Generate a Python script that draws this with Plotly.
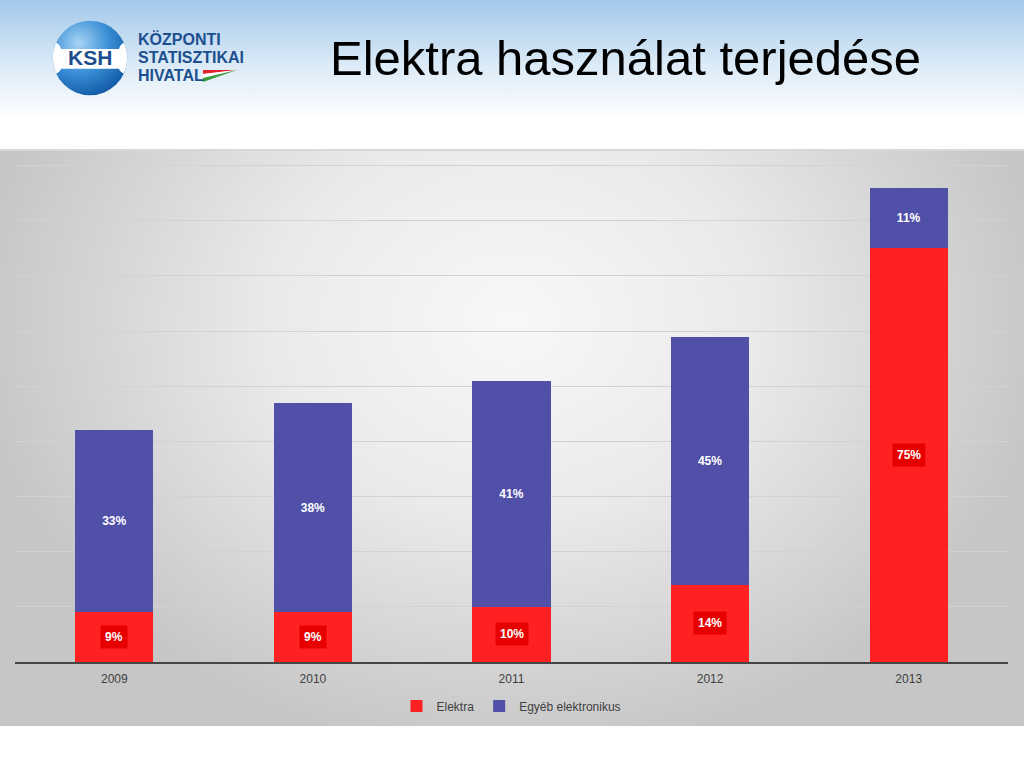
import base64
import plotly.graph_objects as go

years = ["2009", "2010", "2011", "2012", "2013"]
elektra = [9, 9, 10, 14, 75]
egyeb = [33, 38, 41, 45, 11]
series_names = ["Elektra", "Egyéb elektronikus"]
title_text = "Elektra használat terjedése"
logo_lines = ["KÖZPONTI", "STATISZTIKAI", "HIVATAL"]

RED = "#ff2121"
RED_BOX = "#e60000"
BLUE = "#5050a8"

W, H = 1024, 768
L, R, T, B = 15, 16, 160, 106
PW = W - L - R
PH = H - T - B


def px(x):
    return (x - L) / PW


def py(y):
    return (H - B - y) / PH


def svg_uri(svg):
    return "data:image/svg+xml;base64," + base64.b64encode(svg.encode()).decode()


panel_svg = """<svg xmlns='http://www.w3.org/2000/svg' width='1024' height='577' viewBox='0 0 1024 577' preserveAspectRatio='none'>
<defs><radialGradient id='g' cx='0.5' cy='0.3' r='0.75' gradientTransform='translate(0.5 0.3) scale(0.7 1) translate(-0.5 -0.3)'>
<stop offset='0' stop-color='#f8f8f8'/><stop offset='0.45' stop-color='#eaeaea'/><stop offset='1' stop-color='#c6c6c6'/></radialGradient></defs>
<rect width='1024' height='577' fill='url(#g)'/><rect width='1024' height='2' fill='#d8d8d8'/></svg>"""

header_svg = """<svg xmlns='http://www.w3.org/2000/svg' width='1024' height='120' viewBox='0 0 1024 120' preserveAspectRatio='none'>
<defs><linearGradient id='h' x1='0' y1='0' x2='0' y2='1'>
<stop offset='0' stop-color='#a3c8ea'/><stop offset='0.55' stop-color='#dcebf7'/><stop offset='1' stop-color='#ffffff'/></linearGradient></defs>
<rect width='1024' height='120' fill='url(#h)'/></svg>"""

circle_svg = """<svg xmlns='http://www.w3.org/2000/svg' width='100' height='100' viewBox='0 0 100 100'>
<defs><radialGradient id='c' cx='0.35' cy='0.3' r='0.8'>
<stop offset='0' stop-color='#a6d4f4'/><stop offset='0.5' stop-color='#3a8fd6'/><stop offset='1' stop-color='#0c529e'/></radialGradient>
<clipPath id='k'><circle cx='50' cy='50' r='49'/></clipPath></defs>
<circle cx='50' cy='50' r='49' fill='url(#c)'/>
<path clip-path='url(#k)' d='M0 28 Q10 30 12 38 L88 38 Q90 30 100 28 L100 72 Q90 70 88 64 L12 64 Q10 70 0 72 Z' fill='#ffffff'/>
</svg>"""

flag_svg = """<svg xmlns='http://www.w3.org/2000/svg' width='36' height='12' viewBox='0 0 36 12' preserveAspectRatio='none'>
<polygon points='0,0 36,0 0,4' fill='#e2232a'/><polygon points='0,4 36,0 0,8' fill='#ffffff'/>
<polygon points='0,8 36,0 0,12' fill='#3a9b3a'/></svg>"""

fig = go.Figure()
fig.add_trace(go.Bar(
    x=years, y=elektra, name=series_names[0], marker=dict(color=RED, line=dict(width=0)),
    hoverinfo="skip",
))
fig.add_trace(go.Bar(
    x=years, y=egyeb, name=series_names[1], marker=dict(color=BLUE, line=dict(width=0)),
    text=[f"<b>{v}%</b>" for v in egyeb], textposition="inside", insidetextanchor="middle",
    textangle=0, textfont=dict(color="white", size=12, family="Liberation Sans"),
    hoverinfo="skip",
))

annotations = []
for i, v in enumerate(elektra):
    annotations.append(dict(
        x=i, y=v / 2, xref="x", yref="y", text=f"<b>{v}%</b>", showarrow=False,
        font=dict(color="white", size=12, family="Liberation Sans"),
        bgcolor=RED_BOX, borderpad=4,
    ))

annotations.append(dict(
    x=px(625), y=py(58), xref="paper", yref="paper", text=title_text, showarrow=False,
    font=dict(size=49, color="black", family="Liberation Sans"), xanchor="center", yanchor="middle",
))
for i, line in enumerate(logo_lines):
    annotations.append(dict(
        x=px(136), y=py(39 + i * 18.5), xref="paper", yref="paper", text=f"<b>{line}</b>",
        showarrow=False, xanchor="left", yanchor="middle",
        font=dict(size=16, color="#1d4f8f", family="Liberation Sans Narrow, Liberation Sans"),
    ))
annotations.append(dict(
    x=px(90), y=py(58), xref="paper", yref="paper", text="<b>KSH</b>", showarrow=False,
    font=dict(size=21, color="#1d4f8f", family="Liberation Sans"), xanchor="center", yanchor="middle",
))

images = [
    dict(source=svg_uri(panel_svg), xref="paper", yref="paper", x=px(0), y=py(149),
         sizex=W / PW, sizey=577 / PH, sizing="stretch", layer="below", xanchor="left", yanchor="top"),
    dict(source=svg_uri(header_svg), xref="paper", yref="paper", x=px(0), y=py(0),
         sizex=W / PW, sizey=120 / PH, sizing="stretch", layer="below", xanchor="left", yanchor="top"),
    dict(source=svg_uri(circle_svg), xref="paper", yref="paper", x=px(52), y=py(20),
         sizex=76 / PW, sizey=76 / PH, sizing="stretch", layer="above", xanchor="left", yanchor="top"),
    dict(source=svg_uri(flag_svg), xref="paper", yref="paper", x=px(203), y=py(70),
         sizex=34 / PW, sizey=12 / PH, sizing="stretch", layer="above", xanchor="left", yanchor="top"),
]

fig.update_layout(
    width=W, height=H, barmode="stack", bargap=0.607,
    margin=dict(l=L, r=R, t=T, b=B, pad=0),
    paper_bgcolor="white", plot_bgcolor="rgba(0,0,0,0)",
    font=dict(family="Liberation Sans", size=12, color="#404040"),
    xaxis=dict(type="category", range=[-0.5, len(years) - 0.5], showline=True,
               linecolor="#454545", linewidth=2, ticks="", automargin=False, ticklabelstandoff=5,
               showgrid=False, tickfont=dict(size=12, color="#404040"), fixedrange=True),
    yaxis=dict(range=[0, 91], tick0=0, dtick=10, showticklabels=False, showgrid=True,
               automargin=False, gridcolor="#d2d2d2", gridwidth=1, zeroline=False, fixedrange=True),
    legend=dict(orientation="h", x=0.5, xanchor="center", y=py(706), yanchor="middle",
                font=dict(size=12, color="#404040"), bgcolor="rgba(0,0,0,0)", itemwidth=30,
                traceorder="normal"),
    annotations=annotations,
    images=images,
    showlegend=True,
)

fig.write_html("out.html", config={"displayModeBar": False},
               post_script="document.body.style.margin='0';document.body.style.overflow='hidden';")
